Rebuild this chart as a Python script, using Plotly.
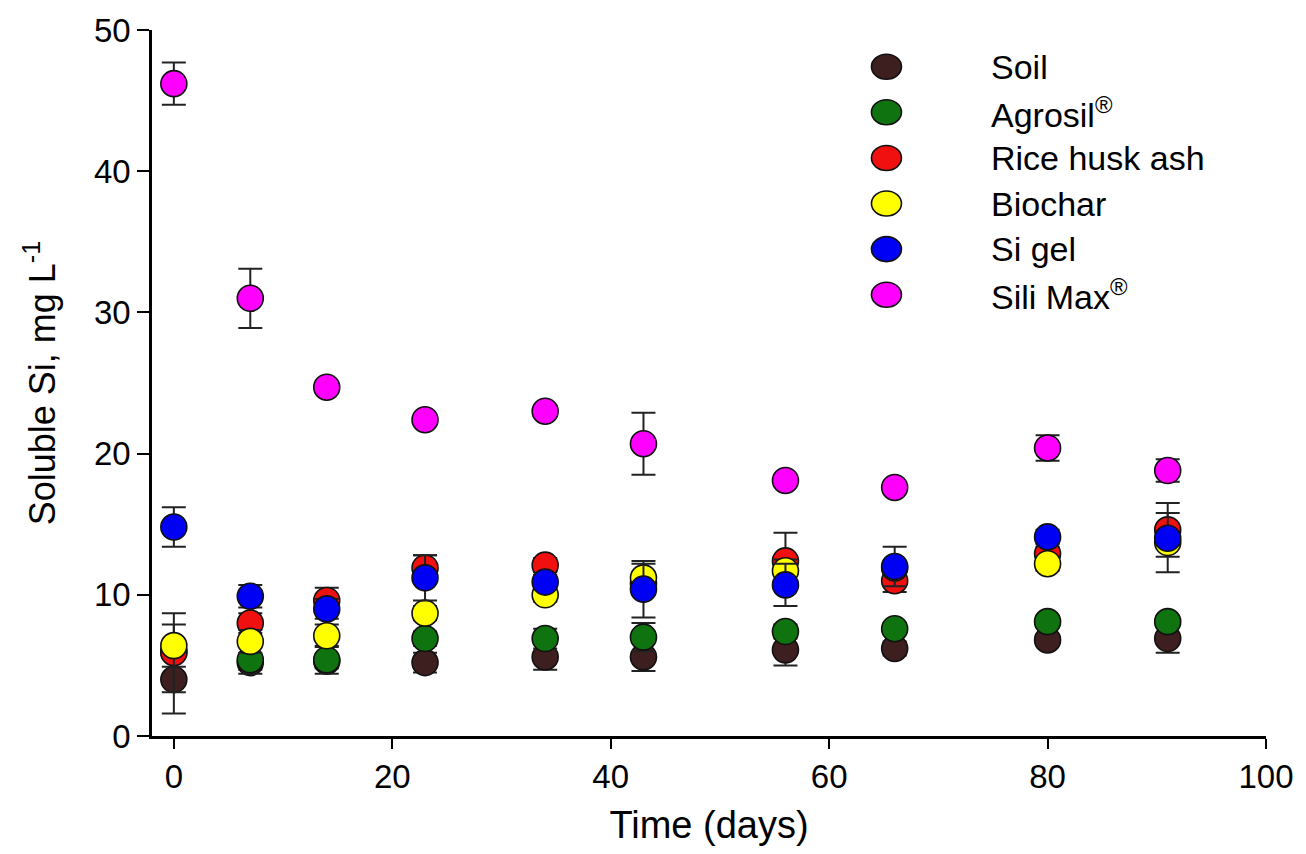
import plotly.graph_objects as go

days = [0, 7, 14, 23, 34, 43, 56, 66, 80, 91]

series_names = ["Soil", "Agrosil<sup>®</sup>", "Rice husk ash", "Biochar", "Si gel", "Sili Max<sup>®</sup>"]
series_colors = ["#3d1f1f", "#0f740f", "#f01010", "#ffff00", "#0000f5", "#ff00ff"]

soil = [4.0, 5.2, 5.3, 5.2, 5.6, 5.6, 6.1, 6.2, 6.8, 6.9]
soil_err = [2.4, 0.5, 0.5, 0.7, 0.9, 1.0, 1.1, 0.5, 0.4, 1.0]

agrosil = [6.0, 5.4, 5.4, 6.9, 6.9, 7.0, 7.4, 7.6, 8.1, 8.1]
agrosil_err = [0.5, 1.0, 1.0, 0.5, 0.7, 1.0, 0.5, 0.4, 0.4, 0.4]

rice = [5.9, 8.0, 9.6, 11.9, 12.1, 10.8, 12.4, 11.0, 12.9, 14.6]
rice_err = [2.8, 0.7, 0.9, 0.9, 0.5, 0.8, 2.0, 0.8, 0.5, 1.9]

biochar = [6.4, 6.7, 7.1, 8.7, 10.0, 11.2, 11.7, 11.9, 12.2, 13.7]
biochar_err = [1.5, 0.8, 0.8, 0.5, 0.5, 1.0, 0.8, 0.5, 0.5, 2.1]

sigel = [14.8, 9.9, 9.0, 11.2, 10.9, 10.4, 10.7, 12.0, 14.1, 14.0]
sigel_err = [1.4, 0.8, 0.7, 1.6, 0.5, 2.0, 1.5, 1.4, 0.5, 0.5]

silimax = [46.2, 31.0, 24.7, 22.4, 23.0, 20.7, 18.1, 17.6, 20.4, 18.8]
silimax_err = [1.5, 2.1, 0.3, 0.3, 0.3, 2.2, 0.2, 0.2, 0.9, 0.8]

all_vals = [soil, agrosil, rice, biochar, sigel, silimax]
all_errs = [soil_err, agrosil_err, rice_err, biochar_err, sigel_err, silimax_err]

x_ticks = [0, 20, 40, 60, 80, 100]
y_ticks = [0, 10, 20, 30, 40, 50]

FONT = "Liberation Sans, Arial, sans-serif"

fig = go.Figure()
for i, (name, color, vals, errs) in enumerate(zip(series_names, series_colors, all_vals, all_errs)):
    fig.add_trace(go.Scatter(
        x=days, y=vals, mode="markers", name=name, showlegend=False,
        marker=dict(size=26, color=color, line=dict(color="#111111", width=1.6)),
        error_y=dict(type="data", array=errs, visible=True, color="#222222",
                     thickness=2, width=12),
    ))

# Custom legend (large symbols like the reference), in paper coordinates
leg_marker_x = 0.6593
leg_text_x = 0.7511
leg_top = 0.948
leg_step = 0.0646
for i, (name, color) in enumerate(zip(series_names, series_colors)):
    yy = leg_top - i * leg_step
    fig.add_shape(type="circle", xref="paper", yref="paper",
                  xsizemode="pixel", ysizemode="pixel",
                  xanchor=leg_marker_x, yanchor=yy,
                  x0=-15, x1=15, y0=-12.5, y1=12.5,
                  fillcolor=color, line=dict(color="#111111", width=1.6))
    fig.add_annotation(x=leg_text_x, y=yy, xref="paper", yref="paper",
                       text=name, showarrow=False, xanchor="left", yanchor="middle",
                       font=dict(size=34, family=FONT, color="black"))

fig.update_layout(
    width=1306, height=854,
    paper_bgcolor="white", plot_bgcolor="white",
    margin=dict(l=152, r=33, t=27, b=118),
    font=dict(family=FONT, color="black", size=32),
    showlegend=False,
)

fig.update_xaxes(
    range=[-2, 100], tickvals=x_ticks, ticktext=[str(v) for v in x_ticks],
    showgrid=False, zeroline=False, showline=True, linecolor="black", linewidth=2.5,
    ticks="outside", ticklen=10, tickwidth=2, tickcolor="black",
    tickfont=dict(size=33, family=FONT),
    title=dict(text="Time (days)", font=dict(size=38, family=FONT), standoff=18),
)
fig.update_yaxes(
    range=[0, 50], tickvals=y_ticks, ticktext=[str(v) for v in y_ticks],
    showgrid=False, zeroline=False, showline=True, linecolor="black", linewidth=2.5,
    ticks="outside", ticklen=12, tickwidth=2, tickcolor="black",
    tickfont=dict(size=33, family=FONT),
    title=dict(text="Soluble Si, mg L<sup>-1</sup>", font=dict(size=36, family=FONT), standoff=28),
)

fig.write_html("out.html")
